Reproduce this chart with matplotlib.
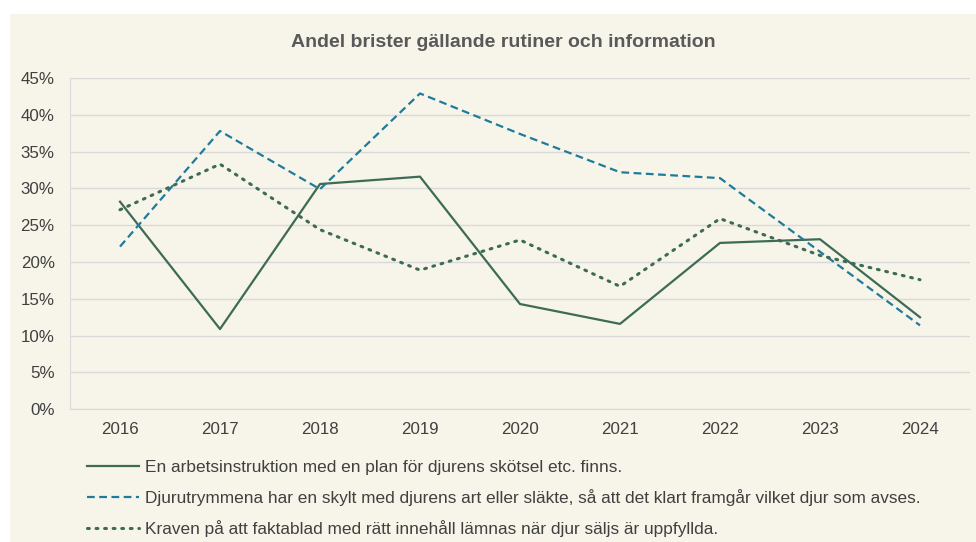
import matplotlib.pyplot as plt
from matplotlib.patches import Rectangle
from matplotlib.ticker import PercentFormatter

plt.rcParams['font.family'] = ['Liberation Sans', 'DejaVu Sans']

years = ['2016', '2017', '2018', '2019', '2020', '2021', '2022', '2023', '2024']

# Andel brister (%) per år
arbetsinstruktion = [28.2, 10.9, 30.6, 31.6, 14.3, 11.6, 22.6, 23.1, 12.5]
skylt = [22.1, 37.8, 29.9, 42.9, 37.4, 32.2, 31.4, 21.4, 11.4]
faktablad = [27.1, 33.3, 24.4, 18.9, 23.0, 16.7, 25.9, 20.9, 17.6]

labels = [
    'En arbetsinstruktion med en plan för djurens skötsel etc. finns.',
    'Djurutrymmena har en skylt med djurens art eller släkte, så att det klart framgår vilket djur som avses.',
    'Kraven på att faktablad med rätt innehåll lämnas när djur säljs är uppfyllda.',
]

bg = '#f7f5e9'
green = '#3d6b55'
teal = '#1f7b9b'
grid = '#d9d9d9'
txt = '#404040'

fig = plt.figure(figsize=(9.76, 5.42), dpi=100, facecolor='white')
# beige chart area (white margin top/left as in the source)
fig.patches.append(Rectangle((10 / 976, 0), 1, 1 - 14 / 542, transform=fig.transFigure,
                             facecolor=bg, edgecolor='none', zorder=-10))

ax = fig.add_axes([70 / 976, 1 - 409.3 / 542, 900 / 976, (409.3 - 78) / 542])
ax.set_facecolor(bg)

x = range(len(years))
ax.plot(x, arbetsinstruktion, color=green, lw=1.6, label=labels[0])
ax.plot(x, skylt, color=teal, lw=1.6, dashes=(3.5, 2), label=labels[1])
ax.plot(x, faktablad, color=green, lw=2.2, linestyle=(0, (0.6, 2.2)),
        dash_capstyle='round', label=labels[2])

ax.set_xlim(-0.5, len(years) - 0.5)
ax.set_ylim(0, 45)
ax.set_yticks(range(0, 46, 5))
ax.yaxis.set_major_formatter(PercentFormatter(decimals=0))
ax.set_xticks(list(x))
ax.set_xticklabels(years)
ax.grid(axis='y', color=grid, lw=1)
ax.set_axisbelow(True)
for s in ['top', 'right']:
    ax.spines[s].set_visible(False)
for s in ['left', 'bottom']:
    ax.spines[s].set_color(grid)
ax.tick_params(length=0, labelsize=12.2, colors=txt)
ax.tick_params(axis='x', pad=9)
ax.tick_params(axis='y', pad=11)

fig.text(503 / 976, 1 - 42 / 542, 'Andel brister gällande rutiner och information',
         ha='center', va='center', fontsize=14, fontweight='bold', color='#595959')

fig.legend(loc='upper left', bbox_to_anchor=(80 / 976, 1 - 453 / 542), frameon=False,
           fontsize=12.4, labelcolor=txt, handlelength=3.05, handletextpad=0.35,
           labelspacing=0.82, borderaxespad=0)

fig.savefig('out.png', dpi=100, facecolor='white')
